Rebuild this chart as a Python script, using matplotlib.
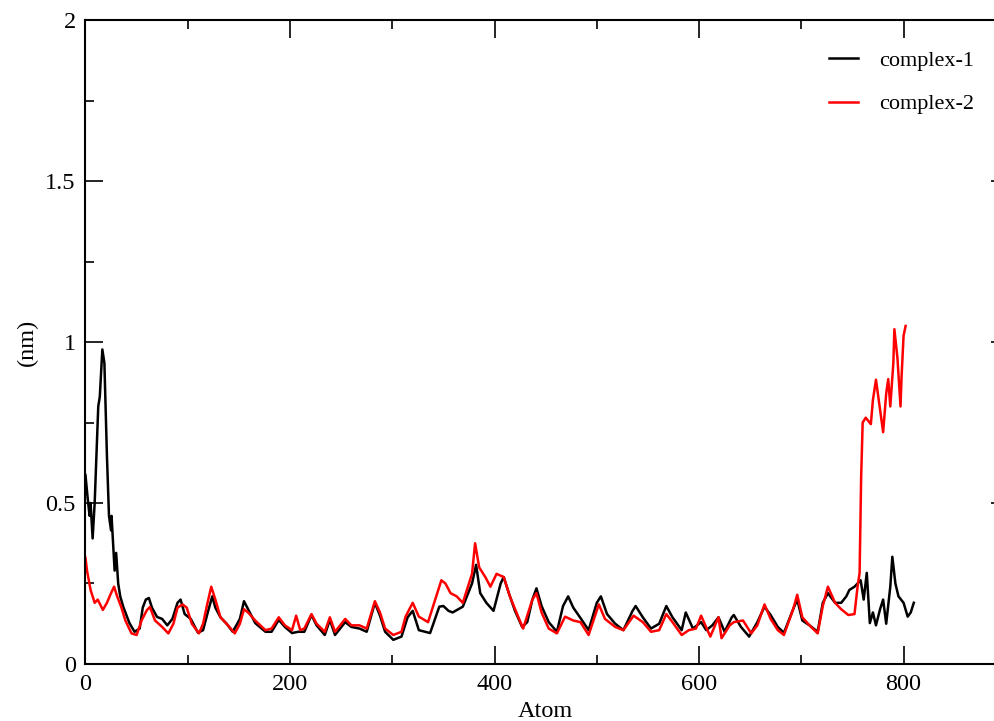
import matplotlib
matplotlib.use("Agg")
import matplotlib.pyplot as plt
from matplotlib.ticker import MultipleLocator

plt.rcParams['font.family'] = ['Liberation Serif', 'DejaVu Serif']

# complex-1 (black), values
atom1 = [0, 2, 4, 5, 7, 9, 12.5, 14, 16.5, 18.5, 21, 23, 25, 25.5, 27, 28.5, 30, 32, 34, 37,
         43, 48, 53, 56, 59, 62, 65, 70, 75, 80, 85, 90, 93, 97, 103, 110, 115, 120, 124, 127,
         132, 138, 144, 151, 155, 159, 166, 176, 182, 189, 195, 202, 208, 214, 221, 226, 234, 239,
         244, 254, 260, 268, 275, 283, 288, 293, 301, 309, 315, 320, 326, 337, 346, 350, 355, 359,
         369, 378, 382, 386, 392, 399, 406, 409, 414, 420, 427, 432, 437, 441, 446, 453, 461, 467,
         472, 477, 484, 492, 500, 504, 510, 518, 526, 535, 538, 545, 553, 561, 568, 574, 583, 587,
         594, 602, 607, 613, 619, 625, 632, 634, 641, 649, 657, 664, 670, 677, 683, 692, 696, 701,
         708, 716, 721, 726, 733, 739, 744, 747, 752, 758, 761, 764, 767, 770, 773, 777, 780, 783,
         787, 789, 792, 795, 800, 804, 807, 810]
rmsf1 = [0.587, 0.52, 0.46, 0.50, 0.39, 0.50, 0.80, 0.83, 0.977, 0.935, 0.645, 0.46, 0.415, 0.46,
         0.375, 0.29, 0.345, 0.25, 0.21, 0.177, 0.127, 0.10, 0.11, 0.175, 0.20, 0.205, 0.175,
         0.146, 0.14, 0.12, 0.14, 0.19, 0.20, 0.155, 0.14, 0.097, 0.105, 0.165, 0.21, 0.175,
         0.145, 0.125, 0.10, 0.14, 0.195, 0.17, 0.127, 0.10, 0.10, 0.137, 0.115, 0.096, 0.10,
         0.10, 0.152, 0.12, 0.09, 0.137, 0.09, 0.13, 0.115, 0.11, 0.10, 0.19, 0.15, 0.10, 0.075,
         0.085, 0.145, 0.165, 0.105, 0.096, 0.178, 0.18, 0.165, 0.16, 0.178, 0.25, 0.308, 0.22,
         0.19, 0.165, 0.25, 0.27, 0.22, 0.165, 0.115, 0.13, 0.20, 0.235, 0.18, 0.13, 0.10, 0.18,
         0.21, 0.175, 0.143, 0.105, 0.19, 0.21, 0.155, 0.125, 0.105, 0.165, 0.18, 0.145, 0.11,
         0.125, 0.18, 0.145, 0.105, 0.16, 0.11, 0.13, 0.105, 0.12, 0.145, 0.10, 0.145, 0.152,
         0.115, 0.085, 0.13, 0.178, 0.152, 0.115, 0.097, 0.17, 0.20, 0.135, 0.12, 0.10, 0.19,
         0.22, 0.19, 0.19, 0.21, 0.23, 0.24, 0.26, 0.20, 0.283, 0.127, 0.16, 0.12, 0.17, 0.20,
         0.125, 0.24, 0.333, 0.25, 0.21, 0.19, 0.147, 0.16, 0.19]

# complex-2 (red)
atom2 = [0, 1.5, 5, 9, 12, 17, 21, 25, 28, 31, 35, 39, 45, 50, 55, 60, 63, 68, 75, 81, 86, 90, 95,
         99, 104, 111, 115, 119, 123, 127, 132, 138, 146, 151, 155, 159, 166, 176, 182, 189, 195,
         202, 206, 210, 214, 221, 226, 234, 239, 244, 254, 260, 268, 275, 283, 288, 293, 301, 309,
         313, 320, 326, 335, 348, 352, 357, 363, 369, 378, 381, 385, 391, 396, 402, 409, 415, 424,
         428, 437, 441, 446, 453, 461, 469, 477, 484, 492, 502, 508, 518, 526, 536, 545, 553, 561,
         568, 574, 583, 590, 597, 602, 611, 619, 622, 630, 634, 643, 651, 657, 664, 670, 677, 683,
         692, 696, 701, 708, 716, 721, 726, 733, 739, 746, 752, 755, 757, 758.5, 760, 763, 768,
         770, 773, 777, 780, 783, 785, 787, 790, 791, 794, 797, 798, 800, 802]
rmsf2 = [0.33, 0.29, 0.23, 0.19, 0.20, 0.168, 0.19, 0.22, 0.24, 0.21, 0.177, 0.135, 0.095, 0.09,
         0.136, 0.167, 0.177, 0.135, 0.115, 0.095, 0.125, 0.175, 0.185, 0.175, 0.125, 0.095,
         0.125, 0.185, 0.24, 0.20, 0.145, 0.125, 0.095, 0.125, 0.17, 0.16, 0.135, 0.105, 0.11,
         0.145, 0.12, 0.105, 0.15, 0.105, 0.11, 0.155, 0.125, 0.10, 0.145, 0.10, 0.14, 0.12,
         0.12, 0.11, 0.195, 0.16, 0.11, 0.09, 0.10, 0.147, 0.19, 0.147, 0.13, 0.26, 0.25, 0.22,
         0.21, 0.19, 0.28, 0.375, 0.30, 0.27, 0.24, 0.28, 0.27, 0.21, 0.14, 0.11, 0.20, 0.22,
         0.16, 0.11, 0.095, 0.147, 0.135, 0.13, 0.09, 0.185, 0.14, 0.115, 0.105, 0.15, 0.13,
         0.10, 0.105, 0.155, 0.13, 0.09, 0.105, 0.11, 0.15, 0.085, 0.145, 0.08, 0.12, 0.13,
         0.135, 0.095, 0.12, 0.185, 0.14, 0.105, 0.09, 0.17, 0.215, 0.145, 0.12, 0.095, 0.18,
         0.24, 0.19, 0.17, 0.152, 0.155, 0.24, 0.283, 0.58, 0.75, 0.765, 0.745, 0.82, 0.883,
         0.79, 0.72, 0.84, 0.885, 0.80, 0.935, 1.04, 0.95, 0.80, 0.89, 1.02, 1.05]

W = 0.928  # axes width in figure fraction; right spine falls just off the canvas

fig = plt.figure(figsize=(9.95, 7.21), dpi=100)
ax = fig.add_axes([0.0859, 0.0791, W, 0.893])

ax.plot(atom1, rmsf1, color='black', lw=1.8, label='complex-1')
ax.plot(atom2, rmsf2, color='red', lw=1.8, label='complex-2')

ax.set_xlim(0, 900 * W / 0.925)
ax.set_ylim(0, 2)
ax.xaxis.set_major_locator(MultipleLocator(200))
ax.xaxis.set_minor_locator(MultipleLocator(100))
ax.yaxis.set_major_locator(MultipleLocator(0.5))
ax.yaxis.set_minor_locator(MultipleLocator(0.25))
ax.yaxis.set_major_formatter(plt.FuncFormatter(lambda v, p: ('%g' % v)))

ax.tick_params(which='both', direction='in', top=True, right=True, width=1.2,
               labelsize=17.5, pad=7)
ax.tick_params(which='major', length=13)
ax.tick_params(which='minor', length=6.7)
for s in ax.spines.values():
    s.set_linewidth(1.5)

ax.set_xlabel('Atom', fontsize=17.5)
ax.set_ylabel('(nm)', fontsize=17.5)
ax.xaxis.set_label_coords(0.5 * 0.925 / W, -0.057)
ax.yaxis.set_label_coords(-0.051, 0.5)

ax.legend(loc='upper left', bbox_to_anchor=(829 / 995, 1 - 50 / 721),
          bbox_transform=fig.transFigure, frameon=False, fontsize=16,
          handlelength=1.3, handletextpad=0.95, labelspacing=1.05,
          borderpad=0, borderaxespad=0)

fig.savefig('out.png', dpi=100)
